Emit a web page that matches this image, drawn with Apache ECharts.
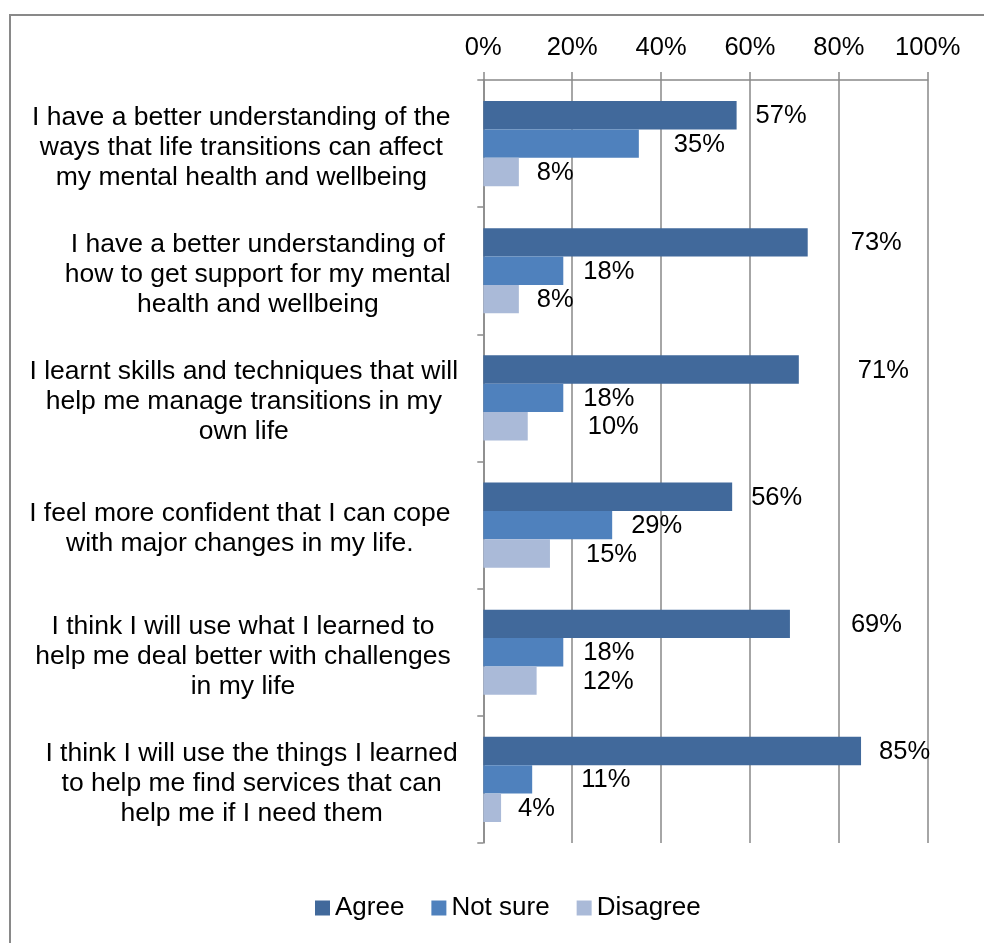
<!DOCTYPE html>
<html>
<head>
<meta charset="utf-8">
<style>
  html, body { margin: 0; padding: 0; background: #ffffff; }
  #chart { width: 984px; height: 943px; }
</style>
<script src="https://cdn.jsdelivr.net/npm/echarts@6/dist/echarts.min.js"></script>
</head>
<body>
<div id="chart"></div>
<script>
// ---- data ----
const categories = [
  "I have a better understanding of the\nways that life transitions can affect\nmy mental health and wellbeing",
  "I have a better understanding of\nhow to get support for my mental\nhealth and wellbeing",
  "I learnt skills and techniques that will\nhelp me manage transitions in my\nown life",
  "I feel more confident that I can cope\nwith major changes in my life.",
  "I think I will use what I learned to\nhelp me deal better with challenges\nin my life",
  "I think I will use the things I learned\nto help me find services that can\nhelp me if I need them"
];
const seriesNames = ["Agree", "Not sure", "Disagree"];
const agree    = [57, 73, 71, 56, 69, 85];
const notSure  = [35, 18, 18, 29, 18, 11];
const disagree = [8, 8, 10, 15, 12, 4];
const tickValues = [0, 20, 40, 60, 80, 100];

// ---- layout tweaks (label placement, not data) ----
const labelShiftX = [
  [19, 43, 59, 19, 61, 18],
  [35, 20, 20, 19, 20, 49],
  [18, 18, 60, 36, 46, 17]
];
const catCenterShift = [0, 16.5, 2.5, -1.5, 1.7, 10.3];
const colors = ["#41699B", "#4F81BD", "#AABAD8"];

const FONT = "'Liberation Sans', Arial, sans-serif";
const GRAY = "#898989";

const rich = {};
catCenterShift.forEach((s, i) => {
  rich["c" + i] = {
    fontSize: 26.5,
    lineHeight: 30,
    fontFamily: FONT,
    color: "#000",
    padding: s >= 0 ? [0, 0, 0, 2 * s] : [0, -2 * s, 0, 0]
  };
});

function makeSeries(name, values, idx) {
  return {
    name: name,
    type: "bar",
    data: values.map((v, i) => ({
      value: v,
      label: { offset: [labelShiftX[idx][i], 1] }
    })),
    barGap: "0%",
    barCategoryGap: "33%",
    itemStyle: { color: colors[idx] },
    label: {
      show: true,
      position: "right",
      distance: 0,
      formatter: "{c}%",
      fontSize: 25.5,
      fontFamily: FONT,
      color: "#000"
    },
    emphasis: { disabled: true }
  };
}

const chart = echarts.init(document.getElementById("chart"), null, { renderer: "canvas" });
chart.setOption({
  animation: false,
  backgroundColor: "#ffffff",
  textStyle: { fontFamily: FONT },
  graphic: [{
    type: "rect",
    shape: { x: 10, y: 15, width: 1000, height: 1000 },
    style: { fill: "none", stroke: GRAY, lineWidth: 2 },
    silent: true,
    z: -10
  }],
  legend: {
    data: seriesNames,
    left: 310,
    top: 890,
    icon: "rect",
    itemWidth: 15,
    itemHeight: 15,
    itemGap: 27,
    textStyle: { fontSize: 26, fontFamily: FONT, color: "#000" }
  },
  grid: { left: 483.3, right: 56.3, top: 80, bottom: 100, containLabel: false },
  xAxis: {
    type: "value",
    position: "top",
    min: tickValues[0],
    max: tickValues[tickValues.length - 1],
    interval: tickValues[1] - tickValues[0],
    axisLine: { show: true, lineStyle: { color: GRAY, width: 1.5 } },
    axisTick: { show: true, length: 8, lineStyle: { color: GRAY, width: 1.5 } },
    splitLine: { show: true, lineStyle: { color: GRAY, width: 1.5 } },
    axisLabel: {
      formatter: "{value}%",
      fontSize: 25.5,
      fontFamily: FONT,
      color: "#000",
      margin: 19
    }
  },
  yAxis: {
    type: "category",
    inverse: true,
    data: categories,
    axisLine: { show: true, lineStyle: { color: GRAY, width: 1.5 } },
    axisTick: { show: true, length: 6, lineStyle: { color: GRAY, width: 1.5 } },
    axisLabel: {
      align: "center",
      margin: 242,
      interval: 0,
      padding: [8, 0, 0, 0],
      formatter: function (value, index) {
        return "{c" + index + "|" + value + "}";
      },
      rich: rich
    }
  },
  series: [
    makeSeries(seriesNames[0], agree, 0),
    makeSeries(seriesNames[1], notSure, 1),
    makeSeries(seriesNames[2], disagree, 2)
  ]
});
</script>
</body>
</html>
